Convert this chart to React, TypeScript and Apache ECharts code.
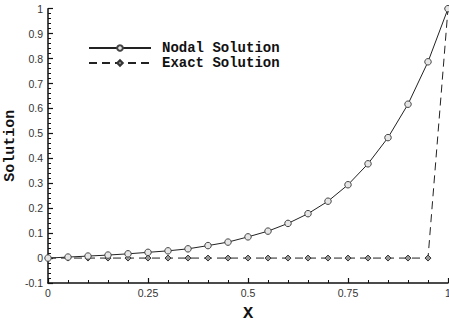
import React, { useEffect, useRef } from "react";
import * as echarts from "echarts";

const xValues = [0, 0.05, 0.1, 0.15, 0.2, 0.25, 0.3, 0.35, 0.4, 0.45, 0.5, 0.55, 0.6, 0.65, 0.7, 0.75, 0.8, 0.85, 0.9, 0.95, 1];
const nodalValues = [0, 0.004, 0.008, 0.012, 0.017, 0.023, 0.029, 0.037, 0.05, 0.064, 0.085, 0.108, 0.139, 0.178, 0.228, 0.294, 0.378, 0.483, 0.617, 0.787, 1];
const exactValues = [0, 0, 0, 0, 0, 0, 0, 0, 0, 0, 0, 0, 0, 0, 0, 0, 0, 0, 0, 0, 1];
const seriesNames = ["Nodal Solution", "Exact Solution"];
const xTickLabels: Record<string, string> = { "0": "0", "0.25": "0.25", "0.5": "0.5", "0.75": "0.75", "1": "1" };

export default function App() {
  const ref = useRef<HTMLDivElement>(null);
  useEffect(() => {
    if (!ref.current) return;
    const chart = echarts.init(ref.current, null, { renderer: "svg" });
    const axisLabelStyle = { color: "#333", fontSize: 10.5, fontFamily: "Liberation Sans, Arial, sans-serif" };
    const monoFont = "Liberation Mono, Courier New, monospace";
    chart.setOption({
      animation: false,
      backgroundColor: "#fff",
      grid: { left: 48, right: 1, top: 8.7, bottom: 42, containLabel: false, outerBoundsMode: "none" },
      legend: {
        orient: "vertical",
        left: 83,
        top: 36,
        itemWidth: 62,
        itemHeight: 7,
        itemGap: 1,
        data: seriesNames,
        textStyle: {
          color: "#111",
          fontSize: 14,
          fontWeight: "bold",
          fontFamily: monoFont,
          lineHeight: 14,
          padding: [0, 0, 0, 6],
        },
      },
      xAxis: {
        type: "value",
        min: 0,
        max: 1,
        interval: 0.25,
        name: "X",
        nameLocation: "middle",
        nameGap: 22,
        nameMoveOverlap: false,
        nameTextStyle: { color: "#111", fontSize: 17, fontWeight: "bold", fontFamily: monoFont },
        axisLine: { show: true, onZero: false, lineStyle: { color: "#111", width: 1.5 } },
        axisTick: { show: true, inside: true, length: 5, lineStyle: { color: "#111", width: 1.2 } },
        minorTick: { show: true, splitNumber: 5, length: 3, lineStyle: { color: "#111", width: 1 } },
        splitLine: { show: false },
        axisLabel: { ...axisLabelStyle, margin: 4, formatter: (v: number) => xTickLabels[String(v)] ?? String(v) },
      },
      yAxis: {
        type: "value",
        min: -0.1,
        max: 1,
        interval: 0.1,
        name: "Solution",
        nameLocation: "middle",
        nameGap: 30,
        nameMoveOverlap: false,
        nameTextStyle: { color: "#111", fontSize: 15, fontWeight: "bold", fontFamily: monoFont },
        axisLine: { show: true, onZero: false, lineStyle: { color: "#111", width: 1.5 } },
        axisTick: { show: true, inside: true, length: 5, lineStyle: { color: "#111", width: 1.2 } },
        minorTick: { show: true, splitNumber: 5, length: 3, lineStyle: { color: "#111", width: 1 } },
        splitLine: { show: false },
        axisLabel: {
          ...axisLabelStyle,
          margin: 5,
          formatter: (v: number) => String(Math.round(v * 10) / 10),
        },
      },
      series: [
        {
          name: seriesNames[1],
          type: "line",
          data: xValues.map((x, i) => [x, exactValues[i]]),
          symbol: "diamond",
          symbolSize: 6,
          showAllSymbol: true,
          lineStyle: { color: "#222", width: 1, type: [8, 5] },
          itemStyle: { color: "#999", borderColor: "#333", borderWidth: 1 },
          z: 2,
        },
        {
          name: seriesNames[0],
          type: "line",
          data: xValues.map((x, i) => [x, nodalValues[i]]),
          symbol: "circle",
          symbolSize: 6.5,
          showAllSymbol: true,
          lineStyle: { color: "#222", width: 1 },
          itemStyle: { color: "#e6e6e6", borderColor: "#444", borderWidth: 1 },
          z: 3,
        },
      ],
    });
    return () => chart.dispose();
  }, []);
  return <div ref={ref} style={{ width: 449, height: 325, position: "absolute", left: 0, top: 0 }} />;
}
